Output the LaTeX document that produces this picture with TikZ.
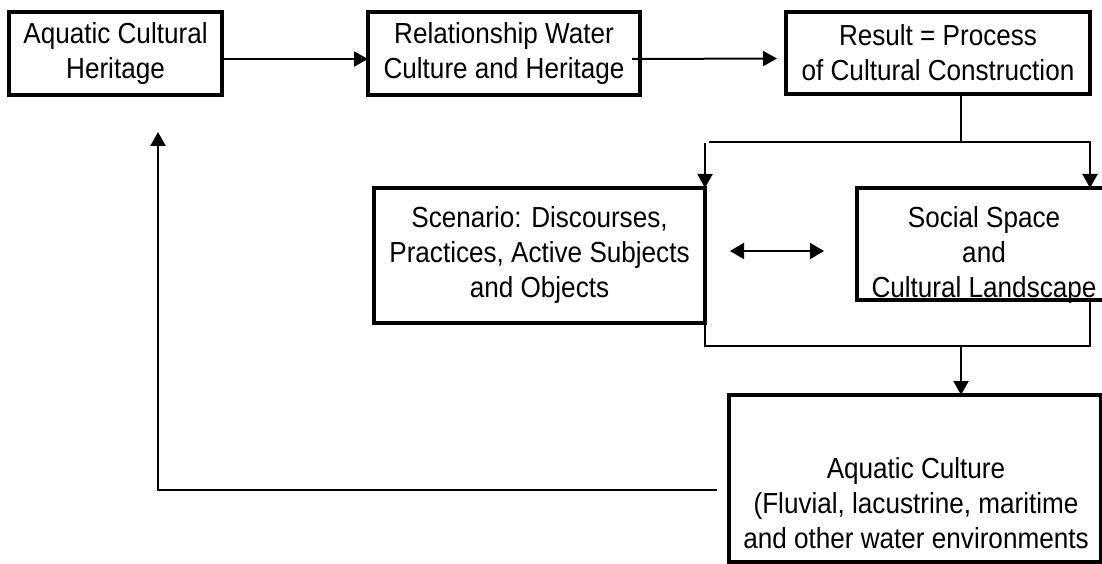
\documentclass[tikz,border=0pt]{standalone}
\usepackage{fontspec}
\setmainfont[FakeStretch=0.9]{Liberation Sans}
\usetikzlibrary{arrows.meta}
\tikzset{
  box/.style={draw=black, line width=3.5pt, inner sep=0pt, outer sep=0pt, align=center,
    font=\fontsize{29}{35}\selectfont},
  lbl/.style={inner sep=0pt, align=center, font=\fontsize{29}{35}\selectfont},
  conn/.style={draw=black, line width=2pt},
  arr/.style={conn, -{Triangle[length=14pt,width=15pt]}},
  dbl/.style={conn, {Triangle[length=14pt,width=16pt]}-{Triangle[length=14pt,width=16pt]}},
}
\begin{document}
\begin{tikzpicture}[x=1pt,y=-1pt]
\useasboundingbox (0,0) rectangle (1102,564);
\fill[white] (0,0) rectangle (1102,564);
% boxes
\node[box, minimum width=213pt, minimum height=83pt] (b1) at (115.5,53.5) {Aquatic Cultural\\Heritage};
\node[box, minimum width=272pt, minimum height=83pt] (b2) at (504,53.5) {Relationship Water\\Culture and Heritage};
\node[box, minimum width=304pt, minimum height=82pt] (b3) at (938,53) {Result = Process\\of Cultural Construction};
\node[box, minimum width=331pt, minimum height=135pt] (b4) at (539.5,255.5) {Scenario: Discourses,\\Practices, Active Subjects\\and Objects};
\node[box, minimum width=253pt, minimum height=112pt] (b5) at (983.5,244) {};
\node[lbl] (t5) at (984,255) {Social Space\\and\\Cultural Landscape};
\node[box, minimum width=372pt, minimum height=167pt] (b6) at (915,478.5) {};
\node[lbl] (t6) at (916,503) {Aquatic Culture\\(Fluvial, lacustrine, maritime\\and other water environments};
% connectors
\draw[arr] ([yshift=-5.5pt]b1.east) -- ([yshift=-5.5pt]b2.west);
\draw[arr] ([xshift=-8pt,yshift=-5.5pt]b2.east) -- ([xshift=-9pt,yshift=-5.5pt]b3.west);
\coordinate (split) at ([xshift=23pt,yshift=-48pt]b3.south);
\draw[conn] ([xshift=23pt]b3.south) -- (split);
\draw[arr] ([xshift=4pt]split -| b4.north east) -- (split -| b3.east) -- (b5.north -| b3.east);
\draw[arr] ([yshift=45pt]b4.north east) -- (b4.north east);
\coordinate (merge) at ([yshift=-23pt]b4.south east);
\draw[conn] (b4.south east) -- (merge) -- (merge -| b3.east) -- (b5.south -| b3.east);
\draw[arr] (merge -| split) -- (b6.north -| split);
\draw[dbl] ([xshift=25pt,yshift=4.5pt]b4.east) -- ([xshift=-33pt,yshift=-7pt]b5.west);
\draw[conn, line width=2.5pt, -{Triangle[length=14pt,width=15pt]}] ([xshift=-12pt,yshift=-11.5pt]b6.west) -| ([xshift=42.5pt,yshift=-37pt]b1.south);
\end{tikzpicture}
\end{document}
